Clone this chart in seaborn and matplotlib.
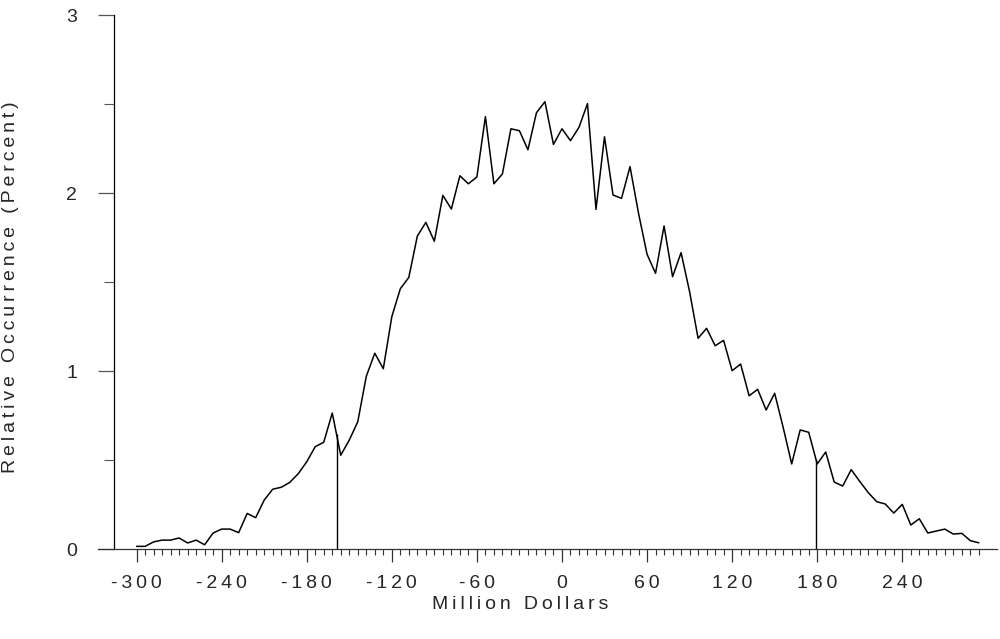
import numpy as np
import pandas as pd
import matplotlib
matplotlib.use("Agg")
import matplotlib.pyplot as plt
import seaborn as sns
from matplotlib.ticker import FixedLocator, NullFormatter

# Outcome grid (million dollars) and the relative occurrence of each bin (percent)
million_dollars = list(range(-300, 295, 6))
relative_occurrence = [
    0.015, 0.015, 0.040, 0.050, 0.050, 0.062, 0.034, 0.050, 0.024, 0.090,
    0.112, 0.112, 0.092, 0.200, 0.176, 0.275, 0.336, 0.347, 0.374, 0.423,
    0.490, 0.575, 0.600, 0.764, 0.527, 0.612, 0.715, 0.970, 1.100, 1.013,
    1.305, 1.462, 1.526, 1.758, 1.835, 1.729, 1.987, 1.910, 2.097, 2.052,
    2.090, 2.429, 2.052, 2.107, 2.361, 2.350, 2.243, 2.451, 2.513, 2.273,
    2.361, 2.294, 2.369, 2.502, 1.908, 2.316, 1.989, 1.970, 2.148, 1.886,
    1.656, 1.549, 1.815, 1.530, 1.665, 1.446, 1.184, 1.240, 1.142, 1.172,
    1.002, 1.039, 0.861, 0.897, 0.781, 0.875, 0.683, 0.478, 0.669, 0.656,
    0.478, 0.545, 0.376, 0.354, 0.446, 0.380, 0.317, 0.266, 0.253, 0.202,
    0.251, 0.135, 0.170, 0.090, 0.101, 0.112, 0.084, 0.088, 0.047, 0.035,
]

# Lower and upper marker positions (million dollars)
marker_positions = [-159, 179]

x_major_ticks = [-300, -240, -180, -120, -60, 0, 60, 120, 180, 240]
y_major_ticks = [0, 1, 2, 3]
y_minor_ticks = [0.5, 1.5, 2.5]

THIN = "\u2009"


def spaced(text):
    """Widen letter spacing by putting a thin space between characters."""
    return THIN.join(text)


sns.set_style("white")
plt.rcParams["font.family"] = ["Liberation Sans", "DejaVu Sans"]

df = pd.DataFrame({"x": million_dollars, "y": relative_occurrence})

fig = plt.figure(figsize=(10, 6.39), dpi=100)
ax = fig.add_axes([0.098, 0.1408, 0.899, 0.8357])

sns.lineplot(data=df, x="x", y="y", color="black", linewidth=1.1, ax=ax)

# Vertical markers rising up to the curve
for xm in marker_positions:
    top = np.interp(xm, million_dollars, relative_occurrence)
    ax.vlines(xm, 0, top, color="black", linewidth=1.0)

ax.set_xlim(-327.2, 306.8)
ax.set_ylim(0, 3)

# Axis lines: y spine sits at -316 while the x axis line reaches further left
for side in ("top", "right"):
    ax.spines[side].set_visible(False)
ax.spines["left"].set_position(("data", -315.9))
ax.spines["left"].set_color("black")
ax.spines["left"].set_linewidth(0.9)
ax.spines["bottom"].set_color("#333333")
ax.spines["bottom"].set_linewidth(0.9)

ax.xaxis.set_major_locator(FixedLocator(x_major_ticks))
ax.xaxis.set_minor_locator(FixedLocator(list(range(-300, 295, 6))))
ax.set_xticklabels([spaced(str(v)) for v in x_major_ticks])
ax.xaxis.set_minor_formatter(NullFormatter())

ax.yaxis.set_major_locator(FixedLocator(y_major_ticks))
ax.yaxis.set_minor_locator(FixedLocator(y_minor_ticks))
ax.set_yticklabels([str(v) for v in y_major_ticks])
ax.yaxis.set_minor_formatter(NullFormatter())

ax.tick_params(axis="x", which="major", direction="out", length=9.4, width=0.9,
               color="#333333", labelsize=14, pad=9.5, bottom=True)
ax.tick_params(axis="x", which="minor", direction="out", length=4.3, width=0.8,
               color="#333333", bottom=True)
ax.tick_params(axis="y", which="major", direction="out", length=11.5, width=0.9,
               color="#555555", labelsize=14, pad=15, left=True)
ax.tick_params(axis="y", which="minor", direction="out", length=7, width=0.8,
               color="#555555", left=True)

ax.set_xlabel(spaced("Million Dollars"), fontsize=14)
ax.set_ylabel(spaced("Relative Occurrence (Percent)"), fontsize=14)
ax.xaxis.set_label_coords(0.47, -0.088)
ax.yaxis.set_label_coords(-0.088, 0.49)

for line in ax.get_lines():
    line.set_clip_on(False)

fig.savefig("out.png", dpi=100)
